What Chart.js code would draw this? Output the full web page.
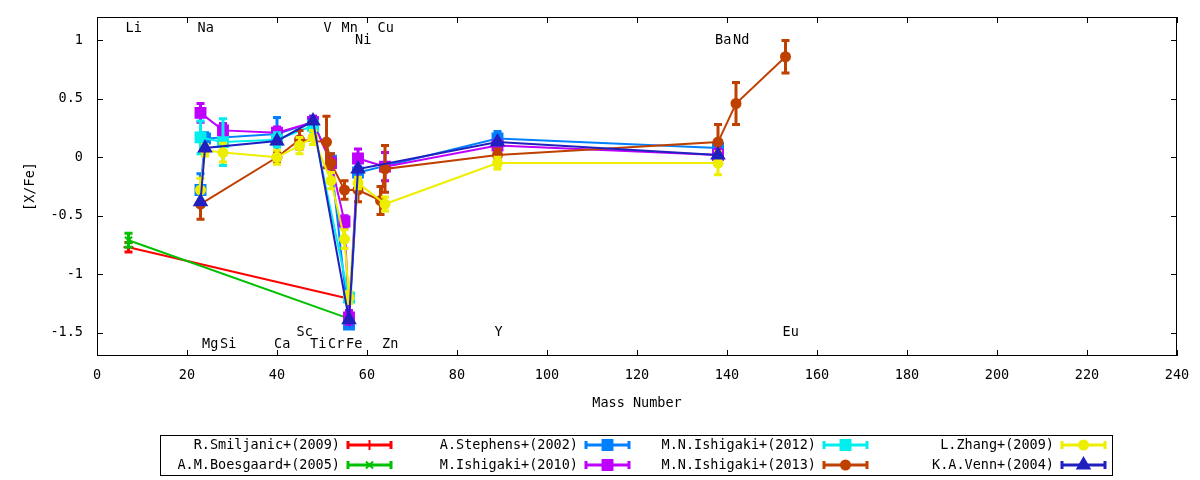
<!DOCTYPE html>
<html>
<head>
<meta charset="utf-8">
<title>[X/Fe] vs Mass Number</title>
<script src="https://cdn.jsdelivr.net/npm/chart.js@4.4.1/dist/chart.umd.min.js"></script>
<style>
  html, body { margin: 0; padding: 0; background: #fff; }
  #wrap { width: 1200px; height: 480px; }
</style>
</head>
<body>
<div id="wrap"><canvas id="grafico" width="1200" height="480"></canvas></div>
<script>
// -----------------------------------------------------------
// Datos
// -----------------------------------------------------------
const yTicks = [-1.5, -1, -0.5, 0, 0.5, 1];

// Etiquetas de elementos (número másico y altura del texto)
const elemNames  = ['Li', 'Na', 'Mg', 'Si', 'Ca', 'Sc', 'Ti', 'V', 'Cr', 'Mn', 'Fe', 'Ni', 'Cu', 'Zn', 'Y', 'Ba', 'Nd', 'Eu'];
const elemMass   = [7, 23, 24, 28, 40, 45, 48, 51, 52, 55, 56, 58, 63, 64, 89, 138, 142, 153];
const elemLabelY = [1.1, 1.1, -1.6, -1.6, -1.6, -1.5, -1.6, 1.1, -1.6, 1.1, -1.6, 1.0, 1.1, -1.6, -1.5, 1.0, 1.0, -1.5];

const seriesNames = [
    'R.Smiljanic+(2009)', 'A.M.Boesgaard+(2005)', 'A.Stephens+(2002)', 'M.Ishigaki+(2010)',
    'M.N.Ishigaki+(2012)', 'M.N.Ishigaki+(2013)', 'L.Zhang+(2009)', 'K.A.Venn+(2004)'
];

const smiljanicMass = [7, 56];
const smiljanicVal  = [-0.77, -1.21];
const smiljanicErr  = [0.04, 0];

const boesgaardMass = [7, 56];
const boesgaardVal  = [-0.71, -1.38];
const boesgaardErr  = [0.06, 0];

const stephensMass = [23, 24, 40, 48, 52, 56, 58, 89, 138];
const stephensVal  = [-0.28, 0.16, 0.20, 0.30, -0.03, -1.43, -0.13, 0.16, 0.08];
const stephensErr  = [0.14, 0.05, 0.14, 0.05, 0.06, 0.03, 0.05, 0.06, 0.07];

const ishigaki10Mass = [23, 28, 40, 48, 52, 55, 56, 58, 64, 89, 138];
const ishigaki10Val  = [0.38, 0.23, 0.21, 0.30, -0.05, -0.55, -1.37, -0.01, -0.08, 0.10, 0.02];
const ishigaki10Err  = [0.08, 0.06, 0.05, 0.05, 0.05, 0.05, 0.06, 0.08, 0.12, 0.05, 0.05];

const ishigaki12Mass = [23, 28, 40, 48, 56];
const ishigaki12Val  = [0.17, 0.13, 0.15, 0.27, -1.20];
const ishigaki12Err  = [0.14, 0.20, 0.06, 0.05, 0.05];

const ishigaki13Mass = [23, 40, 45, 51, 52, 55, 58, 63, 64, 89, 138, 142, 153];
const ishigaki13Val  = [-0.40, 0.00, 0.15, 0.13, -0.05, -0.28, -0.28, -0.37, -0.10, 0.02, 0.13, 0.46, 0.86];
const ishigaki13Err  = [0.13, 0.05, 0.08, 0.22, 0.08, 0.08, 0.10, 0.12, 0.20, 0.05, 0.15, 0.18, 0.14];

const zhangMass = [23, 24, 28, 40, 45, 48, 52, 55, 56, 58, 64, 89, 138];
const zhangVal  = [-0.28, 0.06, 0.04, 0.00, 0.10, 0.17, -0.20, -0.70, -1.20, -0.22, -0.40, -0.05, -0.05];
const zhangErr  = [0.10, 0.05, 0.08, 0.06, 0.07, 0.06, 0.07, 0.08, 0.05, 0.05, 0.06, 0.05, 0.10];

const vennMass = [23, 24, 40, 48, 56, 58, 89, 138];
const vennVal  = [-0.38, 0.08, 0.14, 0.31, -1.39, -0.10, 0.13, 0.02];
const vennErr  = [0, 0, 0, 0, 0, 0, 0, 0];

const seriesMass = [smiljanicMass, boesgaardMass, stephensMass, ishigaki10Mass, ishigaki12Mass, ishigaki13Mass, zhangMass, vennMass];
const seriesVal  = [smiljanicVal, boesgaardVal, stephensVal, ishigaki10Val, ishigaki12Val, ishigaki13Val, zhangVal, vennVal];
const seriesErr  = [smiljanicErr, boesgaardErr, stephensErr, ishigaki10Err, ishigaki12Err, ishigaki13Err, zhangErr, vennErr];

// Estilo tipo gnuplot
const colores = ['#ff0000', '#00c000', '#0080ff', '#c000ff', '#00eeee', '#c04000', '#eeee00', '#2020c0'];
const estilos = ['cross', 'crossRot', 'rect', 'rect', 'rect', 'circle', 'circle', 'triangle'];
const radios  = [5, 5, 7, 7, 7, 4.5, 4.5, 7];

const FUENTE = "'DejaVu Sans Mono', monospace";
Chart.defaults.font.family = FUENTE;
Chart.defaults.font.size = 13.5;
Chart.defaults.color = '#000';

// -----------------------------------------------------------
// Plugins
// -----------------------------------------------------------

// Barras de error verticales, dibujadas junto a cada serie
const barrasError = {
    id: 'barrasError',
    afterDatasetDraw(chart, args) {
        const i = args.index;
        const { ctx, chartArea, scales: { x, y } } = chart;
        const datos = chart.data.datasets[i].data;
        ctx.save();
        ctx.beginPath();
        ctx.rect(chartArea.left, chartArea.top, chartArea.right - chartArea.left, chartArea.bottom - chartArea.top);
        ctx.clip();
        ctx.strokeStyle = colores[i];
        ctx.lineWidth = 3;
        datos.forEach((p, k) => {
            const e = seriesErr[i][k];
            if (!e) return;
            const px = x.getPixelForValue(p.x);
            const t = y.getPixelForValue(p.y + e);
            const b = y.getPixelForValue(p.y - e);
            ctx.beginPath();
            ctx.moveTo(px, t); ctx.lineTo(px, b);
            ctx.moveTo(px - 4, t); ctx.lineTo(px + 4, t);
            ctx.moveTo(px - 4, b); ctx.lineTo(px + 4, b);
            ctx.stroke();
        });
        ctx.restore();
    }
};

// Marco y marcas hacia adentro en los cuatro lados
const marco = {
    id: 'marco',
    beforeDatasetsDraw(chart) {
        const { ctx, chartArea: a, scales: { x, y } } = chart;
        ctx.save();
        ctx.strokeStyle = '#000';
        ctx.lineWidth = 1;
        ctx.strokeRect(Math.round(a.left) + 0.5, Math.round(a.top) + 0.5,
            Math.round(a.right - a.left) - 1, Math.round(a.bottom - a.top) - 1);
        ctx.beginPath();
        x.ticks.forEach(t => {
            const px = Math.round(x.getPixelForValue(t.value)) + 0.5;
            ctx.moveTo(px, a.bottom); ctx.lineTo(px, a.bottom - 6);
            ctx.moveTo(px, a.top); ctx.lineTo(px, a.top + 6);
        });
        y.ticks.forEach(t => {
            const py = Math.round(y.getPixelForValue(t.value)) + 0.5;
            ctx.moveTo(a.left, py); ctx.lineTo(a.left + 6, py);
            ctx.moveTo(a.right, py); ctx.lineTo(a.right - 6, py);
        });
        ctx.stroke();
        ctx.restore();
    }
};

// Nombres de los elementos en el área del gráfico
const elementos = {
    id: 'elementos',
    afterDatasetsDraw(chart) {
        const { ctx, scales: { x, y } } = chart;
        ctx.save();
        ctx.font = '13.5px ' + FUENTE;
        ctx.fillStyle = '#000';
        ctx.textAlign = 'left';
        ctx.textBaseline = 'middle';
        elemNames.forEach((n, k) => {
            ctx.fillText(n, x.getPixelForValue(elemMass[k]) - 3, y.getPixelForValue(elemLabelY[k]));
        });
        ctx.restore();
    }
};

// Leyenda en caja, 4 columnas x 2 filas
const leyenda = {
    id: 'leyenda',
    afterDraw(chart) {
        const ctx = chart.ctx;
        ctx.save();
        ctx.strokeStyle = '#000';
        ctx.lineWidth = 1;
        ctx.strokeRect(160.5, 435.5, 952, 40);
        ctx.font = '13.5px ' + FUENTE;
        ctx.textAlign = 'right';
        ctx.textBaseline = 'middle';
        seriesNames.forEach((n, i) => {
            const col = Math.floor(i / 2), fila = i % 2;
            const xt = 340 + col * 238;
            const yf = 445 + fila * 20;
            ctx.fillStyle = '#000';
            ctx.fillText(n, xt, yf);
            const x0 = xt + 8, x1 = xt + 51;
            ctx.strokeStyle = colores[i];
            ctx.lineWidth = 3;
            ctx.beginPath();
            ctx.moveTo(x0, yf); ctx.lineTo(x1, yf);
            ctx.moveTo(x0, yf - 4); ctx.lineTo(x0, yf + 4);
            ctx.moveTo(x1, yf - 4); ctx.lineTo(x1, yf + 4);
            ctx.stroke();
            ctx.lineWidth = 2;
            ctx.fillStyle = colores[i];
            ctx.strokeStyle = colores[i];
            Chart.helpers.drawPoint(ctx, {
                pointStyle: estilos[i], radius: radios[i], rotation: 0, borderWidth: 2
            }, (x0 + x1) / 2, yf);
        });
        ctx.restore();
    }
};

// -----------------------------------------------------------
// Gráfico
// -----------------------------------------------------------
const datasets = seriesNames.map((n, i) => ({
    label: n,
    data: seriesMass[i].map((m, k) => ({ x: m, y: seriesVal[i][k] })),
    showLine: true,
    borderColor: colores[i],
    backgroundColor: colores[i],
    borderWidth: 2,
    pointStyle: estilos[i],
    pointRadius: radios[i],
    pointBorderWidth: 2,
    pointBorderColor: colores[i],
    pointBackgroundColor: colores[i],
    tension: 0,
    order: seriesNames.length - i   // la última serie queda encima, como en gnuplot
}));

const ctx = document.getElementById('grafico').getContext('2d');
new Chart(ctx, {
    type: 'scatter',
    data: { datasets },
    options: {
        responsive: false,
        animation: false,
        devicePixelRatio: 1,
        layout: { padding: { top: 17, right: 23, left: 0, bottom: 0 } },
        plugins: {
            legend: { display: false },
            tooltip: { enabled: false }
        },
        scales: {
            x: {
                type: 'linear',
                min: 0,
                max: 240,
                ticks: { stepSize: 20, padding: 11, maxRotation: 0 },
                grid: { display: false, drawTicks: false },
                border: { display: false },
                title: { display: true, text: 'Mass Number', padding: { bottom: 68 } },
                afterFit(scale) {
                    scale.height = 124;
                    scale.paddingLeft = 0;
                    scale.paddingRight = 0;
                }
            },
            y: {
                type: 'linear',
                min: -1.7,
                max: 1.2,
                afterBuildTicks(scale) { scale.ticks = yTicks.map(v => ({ value: v })); },
                ticks: { padding: 14, callback: v => String(v) },
                grid: { display: false, drawTicks: false },
                border: { display: false },
                title: { display: true, text: '[X/Fe]', padding: { top: 22 } },
                afterFit(scale) {
                    scale.width = 97;
                    scale.paddingTop = 0;
                    scale.paddingBottom = 0;
                }
            }
        }
    },
    plugins: [barrasError, marco, elementos, leyenda]
});
</script>
</body>
</html>
